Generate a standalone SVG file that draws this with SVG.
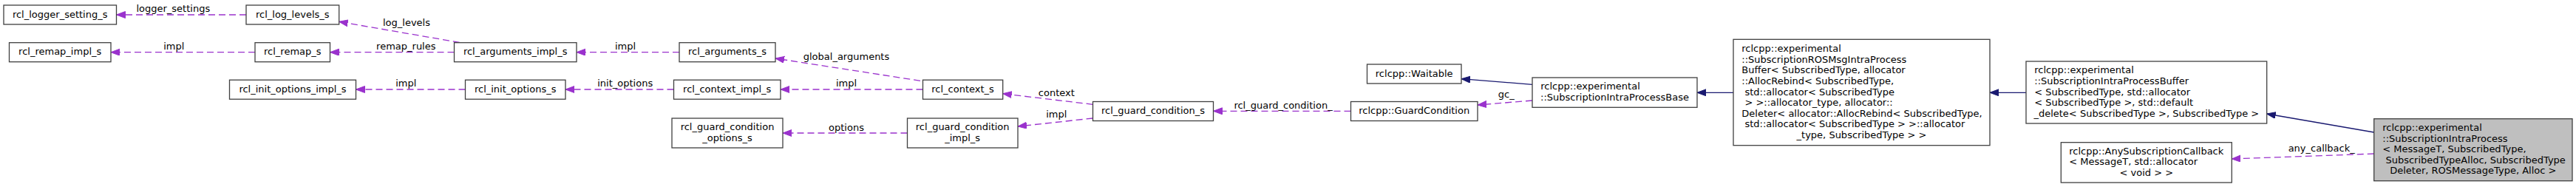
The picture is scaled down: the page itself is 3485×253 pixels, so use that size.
<svg xmlns="http://www.w3.org/2000/svg" width="3485" height="253" viewBox="0 0 3485 253">
<style>
text{font-family:"DejaVu Sans","Liberation Sans",sans-serif;font-size:13px;fill:#000}
.c{text-anchor:middle}
.n rect{fill:#fff;stroke:#404040;stroke-width:1.3}
#main rect{fill:#bfbfbf}
.d{stroke:#9a32cd;stroke-width:1.3;stroke-dasharray:9,5;fill:none;marker-end:url(#ap)}
.s{stroke:#191970;stroke-width:1.3;fill:none;marker-end:url(#an)}
</style>
<defs>
<marker id="ap" markerUnits="userSpaceOnUse" markerWidth="13" markerHeight="10" refX="12" refY="4.5" orient="auto"><path d="M0,0L12,4.5L0,9z" fill="#9a32cd" stroke="#9a32cd" stroke-width="1"/></marker>
<marker id="an" markerUnits="userSpaceOnUse" markerWidth="13" markerHeight="10" refX="12" refY="4.5" orient="auto"><path d="M0,0L12,4.5L0,9z" fill="#191970" stroke="#191970" stroke-width="1"/></marker>
</defs>
<rect width="3485" height="253" fill="#fff"/>
<g id="edges">
<line class="d" x1="333" y1="20" x2="157.5" y2="20"/>
<text class="c" x="234.3" y="15.8">logger_settings</text>
<line class="d" x1="621.7" y1="57.5" x2="458.7" y2="29.3"/>
<text class="c" x="550" y="34.7">log_levels</text>
<line class="d" x1="345" y1="70.7" x2="150" y2="70.7"/>
<text class="c" x="235.3" y="67">impl</text>
<line class="d" x1="614.5" y1="70.7" x2="446.5" y2="70.7"/>
<text class="c" x="549.3" y="67">remap_rules</text>
<line class="d" x1="629.5" y1="121" x2="481.5" y2="121"/>
<text class="c" x="549.3" y="117">impl</text>
<line class="d" x1="919" y1="70.7" x2="780" y2="70.7"/>
<text class="c" x="846" y="67">impl</text>
<line class="d" x1="911.5" y1="121" x2="765" y2="121"/>
<text class="c" x="845.7" y="117">init_options</text>
<line class="d" x1="1245" y1="109.3" x2="1049" y2="79"/>
<text class="c" x="1145" y="81">global_arguments</text>
<line class="d" x1="1248.5" y1="121" x2="1056" y2="121"/>
<text class="c" x="1145" y="117">impl</text>
<line class="d" x1="1227.5" y1="180" x2="1059" y2="180"/>
<text class="c" x="1145" y="176.5">options</text>
<line class="d" x1="1478.5" y1="141.3" x2="1356.7" y2="126.7"/>
<text class="c" x="1429.3" y="129.8">context</text>
<line class="d" x1="1478.5" y1="160" x2="1377" y2="171"/>
<text class="c" x="1429.3" y="159.2">impl</text>
<line class="d" x1="1827.5" y1="150.3" x2="1641.5" y2="150.3"/>
<text class="c" x="1736" y="146.6">rcl_guard_condition_</text>
<line class="d" x1="2073" y1="136" x2="1999" y2="142"/>
<text class="c" x="2037.7" y="132.1">gc_</text>
<line class="d" x1="3211.7" y1="208" x2="3019.3" y2="215"/>
<text class="c" x="3140.7" y="204.9">any_callback_</text>
<line class="s" x1="2073" y1="114.3" x2="1977" y2="106.7"/>
<line class="s" x1="2345" y1="125.3" x2="2296" y2="125.3"/>
<line class="s" x1="2741" y1="125.3" x2="2692" y2="125.3"/>
<line class="s" x1="3211.7" y1="179" x2="3066.7" y2="154"/>
</g>
<g id="rcl_logger_setting_s" class="n"><rect x="5" y="7" width="152.5" height="26"/><text class="c" x="81.2" y="23.5">rcl_logger_setting_s</text></g>
<g id="rcl_log_levels_s" class="n"><rect x="333" y="7" width="125.7" height="26"/><text class="c" x="395.8" y="23.5">rcl_log_levels_s</text></g>
<g id="rcl_remap_impl_s" class="n"><rect x="12.5" y="57.7" width="137.5" height="26"/><text class="c" x="81.2" y="74.2">rcl_remap_impl_s</text></g>
<g id="rcl_remap_s" class="n"><rect x="345" y="57.7" width="101.5" height="26"/><text class="c" x="395.8" y="74.2">rcl_remap_s</text></g>
<g id="rcl_arguments_impl_s" class="n"><rect x="614.5" y="57.7" width="165.5" height="26"/><text class="c" x="697.2" y="74.2">rcl_arguments_impl_s</text></g>
<g id="rcl_arguments_s" class="n"><rect x="919" y="57.7" width="130" height="26"/><text class="c" x="984" y="74.2">rcl_arguments_s</text></g>
<g id="rcl_init_options_impl_s" class="n"><rect x="310.5" y="108.2" width="171" height="26"/><text class="c" x="396" y="124.7">rcl_init_options_impl_s</text></g>
<g id="rcl_init_options_s" class="n"><rect x="629.5" y="108.2" width="135.5" height="26"/><text class="c" x="697.2" y="124.7">rcl_init_options_s</text></g>
<g id="rcl_context_impl_s" class="n"><rect x="911.5" y="108.2" width="144.5" height="26"/><text class="c" x="983.7" y="124.7">rcl_context_impl_s</text></g>
<g id="rcl_context_s" class="n"><rect x="1248.5" y="108.2" width="108.2" height="26"/><text class="c" x="1302.6" y="124.7">rcl_context_s</text></g>
<g id="rcl_guard_condition_options_s" class="n"><rect x="909" y="160" width="150" height="40"/><text class="c" x="984" y="176.2">rcl_guard_condition</text><text class="c" x="984" y="190.8">_options_s</text></g>
<g id="rcl_guard_condition_impl_s" class="n"><rect x="1227.5" y="160" width="149.5" height="40"/><text class="c" x="1302.2" y="176.2">rcl_guard_condition</text><text class="c" x="1302.2" y="190.8">_impl_s</text></g>
<g id="rcl_guard_condition_s" class="n"><rect x="1478.5" y="137.5" width="163" height="26"/><text class="c" x="1560" y="154">rcl_guard_condition_s</text></g>
<g id="Waitable" class="n"><rect x="1849.5" y="87" width="127.5" height="26"/><text class="c" x="1913.2" y="103.5">rclcpp::Waitable</text></g>
<g id="GuardCondition" class="n"><rect x="1827.5" y="137.5" width="171.5" height="26"/><text class="c" x="1913.2" y="154">rclcpp::GuardCondition</text></g>
<g id="SubscriptionIntraProcessBase" class="n"><rect x="2073" y="105" width="223" height="40.3"/><text x="2084.3" y="121.4">rclcpp::experimental</text><text class="c" x="2184.5" y="136">::SubscriptionIntraProcessBase</text></g>
<g id="SubscriptionROSMsgIntraProcessBuffer" class="n"><rect x="2345" y="53.3" width="347" height="143.4"/>
<text x="2356.3" y="70.1">rclcpp::experimental</text>
<text x="2356.3" y="84.7">::SubscriptionROSMsgIntraProcess</text>
<text x="2356.3" y="99.3">Buffer&lt; SubscribedType, allocator</text>
<text x="2356.3" y="113.9">::AllocRebind&lt; SubscribedType,</text>
<text x="2360.4" y="128.5">std::allocator&lt; SubscribedType</text>
<text x="2360.4" y="143.1">&gt; &gt;::allocator_type, allocator::</text>
<text x="2356.3" y="157.7">Deleter&lt; allocator::AllocRebind&lt; SubscribedType,</text>
<text x="2360.4" y="172.3">std::allocator&lt; SubscribedType &gt; &gt;::allocator</text>
<text class="c" x="2518.5" y="186.9">_type, SubscribedType &gt; &gt;</text>
</g>
<g id="SubscriptionIntraProcessBuffer" class="n"><rect x="2741" y="83" width="325.7" height="84"/>
<text x="2752.3" y="99.3">rclcpp::experimental</text>
<text x="2752.3" y="113.9">::SubscriptionIntraProcessBuffer</text>
<text x="2752.3" y="128.5">&lt; SubscribedType, std::allocator</text>
<text x="2752.3" y="143.1">&lt; SubscribedType &gt;, std::default</text>
<text class="c" x="2903.8" y="157.7">_delete&lt; SubscribedType &gt;, SubscribedType &gt;</text>
</g>
<g id="AnySubscriptionCallback" class="n"><rect x="2788.3" y="192.7" width="231" height="54.3"/>
<text x="2799.3" y="208.7">rclcpp::AnySubscriptionCallback</text>
<text x="2799.3" y="223.3">&lt; MessageT, std::allocator</text>
<text class="c" x="2903.8" y="237.9">&lt; void &gt; &gt;</text>
</g>
<g id="main" class="n"><rect x="3211.7" y="160.7" width="268.3" height="84"/>
<text x="3223.3" y="177">rclcpp::experimental</text>
<text x="3223.3" y="191.6">::SubscriptionIntraProcess</text>
<text x="3223.3" y="206.2">&lt; MessageT, SubscribedType,</text>
<text x="3227.4" y="220.8">SubscribedTypeAlloc, SubscribedType</text>
<text class="c" x="3345.8" y="235.4">Deleter, ROSMessageType, Alloc &gt;</text>
</g>
</svg>
